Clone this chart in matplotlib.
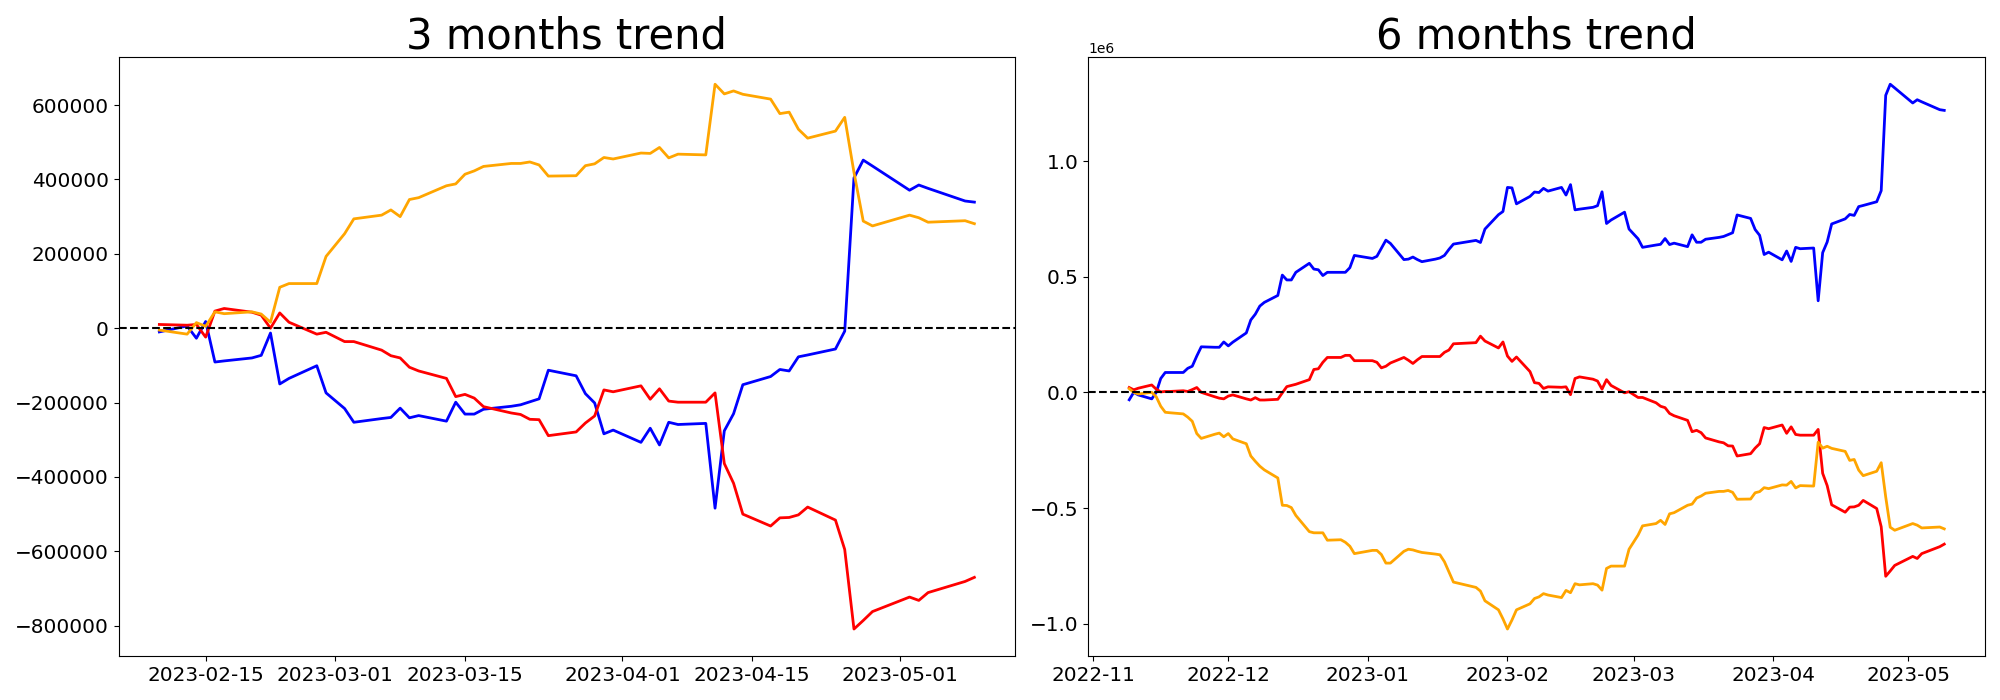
import numpy as np
import pandas as pd
import matplotlib
matplotlib.use("Agg")
import matplotlib.pyplot as plt

# KRX trading days (market closed on these weekdays)
holidays = ['2022-12-30', '2023-01-23', '2023-01-24', '2023-03-01', '2023-05-01', '2023-05-05']
dates_6m = pd.bdate_range('2022-11-09', '2023-05-09', freq='C', holidays=holidays)
dates_3m = dates_6m[dates_6m >= '2023-02-10']

# 3 months trend, cumulative values in thousands
blue_3m = [-10, 6, -27, 18, -91, -88, -80, -73, -13, -150, -135, -101, -174, -216, -253,
           -243, -240, -215, -241, -235, -250, -199, -231, -231, -218, -210, -206, -198, -190, -113,
           -128, -176, -201, -284, -274, -307, -269, -314, -253, -259, -256, -484, -276, -230, -152,
           -130, -111, -115, -77, -72, -56, -8, 404, 452, 436, 371, 385, 376, 342, 339]
red_3m = [10, 8, 10, -24, 46, 53, 43, 35, 0, 41, 16, -16, -11, -36, -36,
          -59, -74, -80, -105, -115, -135, -184, -178, -188, -211, -228, -232, -245, -246, -289,
          -279, -255, -236, -166, -171, -155, -191, -163, -196, -199, -199, -174, -364, -417, -500,
          -532, -510, -509, -502, -481, -516, -595, -809, -786, -762, -723, -732, -711, -681, -670]
orange_3m = [-5, -16, 15, 5, 44, 39, 44, 38, 16, 110, 120, 120, 193, 254, 294,
             304, 318, 300, 346, 351, 383, 388, 414, 423, 435, 443, 443, 447, 439, 409,
             410, 437, 442, 459, 455, 471, 470, 486, 458, 468, 466, 656, 630, 638, 629,
             616, 577, 581, 535, 511, 530, 567, 419, 288, 275, 304, 297, 285, 289, 281]

# 6 months trend, cumulative values in thousands
blue_6m = [-32, 0, -11, -28, 0, 60, 86, 86, 86, 104, 113, 157, 197, 195, 195, 218,
           201, 217, 257, 313, 338, 373, 389, 419, 507, 486, 486, 519, 558, 533, 530, 505, 519, 519, 519, 539, 592,
           579, 588, 623, 658, 644, 574, 576, 585, 574, 565, 576, 581, 592, 618, 641, 657, 648, 706, 768, 782,
           886, 884, 815, 847, 866, 864, 882,
           870, 886, 853, 898, 789, 792, 800, 807, 867, 730, 745, 779, 706, 664, 627,
           637, 640, 665, 639, 645, 630, 681, 649, 649, 662, 670, 674, 682, 690, 767,
           752, 704, 679, 596, 606, 573, 611, 566, 627, 621, 624, 396, 604, 650, 728,
           750, 769, 765, 803, 808, 824, 872, 1284, 1332, 1316, 1251, 1265, 1256, 1222, 1219]
red_6m = [21, 11, 18, 32, 14, 2, 4, 4, 7, 4, 12, 21, 0, -19, -25, -28,
          -16, -11, -28, -33, -23, -33, -33, -30, -2, 25, 30, 35, 55, 99, 102, 130, 151, 151, 160, 160, 137,
          137, 130, 106, 113, 127, 151, 139, 125, 141, 155, 155, 155, 173, 183, 210, 215, 243, 222, 192, 218,
          157, 134, 153, 90, 42, 39, 17,
          24, 22, 24, -10, 60, 67, 57, 49, 14, 55, 30, -2, 3, -22, -22,
          -45, -60, -66, -91, -101, -121, -170, -164, -174, -197, -214, -218, -231, -232, -275,
          -265, -241, -222, -152, -157, -141, -177, -149, -182, -185, -185, -160, -350, -403, -486,
          -518, -496, -495, -488, -467, -502, -581, -795, -772, -748, -709, -718, -697, -667, -656]
orange_6m = [16, 0, -7, 0, -19, -60, -86, -88, -93, -107, -125, -178, -199, -181, -176, -192,
             -178, -201, -222, -275, -298, -319, -335, -370, -488, -489, -498, -532, -602, -607, -607, -607, -639, -637, -648, -665, -697,
             -683, -683, -701, -738, -738, -687, -678, -681, -687, -692, -699, -702, -732, -776, -820, -843, -859, -901, -940, -979,
             -1023, -984, -940, -914, -891, -884, -870,
             -876, -887, -856, -866, -827, -832, -827, -833, -855, -761, -751, -751, -678, -617, -577,
             -567, -553, -571, -525, -520, -488, -483, -457, -448, -436, -428, -428, -424, -432, -462,
             -461, -434, -429, -412, -416, -400, -401, -385, -413, -403, -405, -215, -241, -233, -242,
             -255, -294, -290, -336, -360, -341, -304, -452, -583, -596, -567, -574, -586, -582, -590]

fig, axes = plt.subplots(1, 2, figsize=(20, 7), dpi=100)

panels = [
    (axes[0], dates_3m, blue_3m, red_3m, orange_3m, '3 months trend'),
    (axes[1], dates_6m, blue_6m, red_6m, orange_6m, '6 months trend'),
]
for ax, d, b, r, o, title in panels:
    ax.plot(d, np.array(b) * 1000, color='blue', linewidth=2)
    ax.plot(d, np.array(r) * 1000, color='red', linewidth=2)
    ax.plot(d, np.array(o) * 1000, color='orange', linewidth=2)
    ax.axhline(0, color='black', linestyle='--', linewidth=1.5)
    ax.set_title(title, fontsize=30)
    ax.tick_params(axis='both', labelsize=14.4)

plt.tight_layout()
plt.savefig('out.png')
